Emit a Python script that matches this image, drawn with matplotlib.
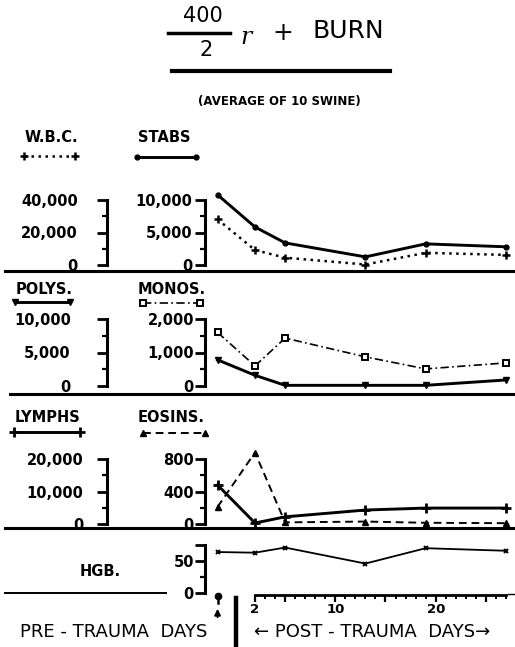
"""Blood counts of swine after 400/2 r + burn, redrawn from the hand-lettered chart."""
import matplotlib
matplotlib.use("Agg")
import matplotlib.pyplot as plt
from matplotlib import transforms
from matplotlib.lines import Line2D
from matplotlib.ticker import FixedLocator, FixedFormatter, FuncFormatter

# ---- data (first value is the pre-trauma average) ----
days = [2, 5, 13, 19, 27]
pre_day = -1.73          # where the pre-trauma values sit on the day scale

wbc = [28100, 9200, 4500, 300, 7500, 6200]
stabs = [10800, 5850, 3400, 1250, 3250, 2800]
polys = [3900, 1600, 100, 100, 100, 900]
monos = [1600, 600, 1430, 870, 510, 690]
lymphs = [12000, 300, 2200, 4300, 4900, 4900]
eosins = [210, 880, 20, 30, 15, 10]
hgb = [64, 63, 71, 46, 70, 66]

day_ticks = [2, 5, 10, 15, 20, 25]
day_labels = ["2", "", "10", "", "20", ""]

plt.rcParams["font.family"] = "DejaVu Sans"
plt.rcParams["font.weight"] = "bold"

W, H = 515, 647
fig = plt.figure(figsize=(W / 100, H / 100), dpi=100)
xs = [pre_day] + days


def fx(px):
    return px / W


def fy(py):
    return 1 - py / H


X_LEFT, X_RIGHT = 205, 515
XLIM = (-2.98, 27.9)
TWIN_POS = (107 - X_LEFT) / (X_RIGHT - X_LEFT)


def scale(ax, ymax, pad, major=None, labels=None):
    """Bracket-like y scale: thick spine, ticks pointing out at ends."""
    ax.set_ylim(0, ymax)
    ax.spines["left"].set_bounds(0, ymax)
    ax.spines["left"].set_linewidth(2.2)
    for s in ["top", "right", "bottom"]:
        ax.spines[s].set_visible(False)
    if major is None:
        major = [0, ymax / 2, ymax]
    ax.yaxis.set_major_locator(FixedLocator(major))
    if labels is None:
        ax.yaxis.set_major_formatter(FuncFormatter(lambda v, p: f"{int(v):,}"))
    else:
        ax.yaxis.set_major_formatter(FixedFormatter(labels))
    ax.yaxis.set_minor_locator(FixedLocator([ymax / 4, 3 * ymax / 4]))
    ax.tick_params(axis="y", which="major", direction="out", length=7,
                   width=2, labelsize=10.5, pad=pad)
    ax.tick_params(axis="y", which="minor", direction="out", length=3.5,
                   width=1.6)
    ax.set_xticks([])


def panel(top, bottom, ymax, pad, **kw):
    ax = fig.add_axes([fx(X_LEFT), fy(bottom), fx(X_RIGHT - X_LEFT),
                       (bottom - top) / H])
    ax.set_xlim(*XLIM)
    ax.patch.set_visible(False)
    scale(ax, ymax, pad, **kw)
    return ax


def twin(ax, ymax, pad):
    tw = ax.twinx()
    tw.patch.set_visible(False)
    tw.spines["left"].set_position(("axes", TWIN_POS))
    tw.spines["left"].set_visible(True)
    tw.yaxis.set_ticks_position("left")
    scale(tw, ymax, pad)
    return tw


def rule(x0, x1, y, lw=2.2):
    fig.add_artist(Line2D([fx(x0), fx(x1)], [fy(y), fy(y)], color="k",
                          lw=lw, transform=fig.transFigure))


def key(x0, x1, y, **kw):
    fig.add_artist(Line2D([fx(x0), fx(x1)], [fy(y), fy(y)], color="k",
                          transform=fig.transFigure, clip_on=False, **kw))


def label(x, y, s, size=10.5, **kw):
    fig.text(fx(x), fy(y), s, ha="center", va="center", fontsize=size, **kw)


wbc_style = dict(ls=(0, (1, 1.8)), lw=1.8, marker="+", ms=6, mew=1.8)
stabs_style = dict(ls="-", lw=2.1, marker="o", ms=3.5)
polys_style = dict(ls="-", lw=2.1, marker="v", ms=5)
monos_style = dict(ls=(0, (5, 2, 1, 2)), lw=1.2, marker="s", ms=4,
                   mfc="white", mew=1.4)
lymphs_style = dict(ls="-", lw=2.1, marker="+", ms=6.5, mew=2)
eosins_style = dict(ls=(0, (4, 2.5)), lw=1.4, marker="^", ms=4.5)
hgb_style = dict(ls="-", lw=1.3, marker="x", ms=3.5, mew=1.4)

# ---- panel 1: W.B.C. / STABS ----
ax1 = panel(200, 265, 10000, pad=2)
tw1 = twin(ax1, 40000, pad=14)
tw1.plot(xs, wbc, color="k", clip_on=False, **wbc_style)
ax1.plot(xs, stabs, color="k", clip_on=False, **stabs_style)
label(51, 137, "W.B.C.")
label(164, 137, "STABS")
key(24, 75, 156, **wbc_style)
key(137, 196, 157, **stabs_style)

# ---- panel 2: POLYS. / MONOS. ----
ax2 = panel(319, 386, 2000, pad=1)
tw2 = twin(ax2, 10000, pad=19)
tw2.plot(xs, polys, color="k", clip_on=False, **polys_style)
ax2.plot(xs, monos, color="k", clip_on=False, **monos_style)
label(44, 290, "POLYS.")
label(172, 290, "MONOS.")
key(15, 70, 302, **polys_style)
key(143, 200, 303, **monos_style)

# ---- panel 3: LYMPHS / EOSINS. ----
ax3 = panel(459, 524, 800, pad=1)
tw3 = twin(ax3, 20000, pad=10)
tw3.plot(xs, lymphs, color="k", clip_on=False, **lymphs_style)
ax3.plot(xs, eosins, color="k", clip_on=False, **eosins_style)
label(47, 417, "LYMPHS")
label(171, 418, "EOSINS.")
key(14, 80, 432, **lymphs_style)
key(143, 205, 433, **eosins_style)

# ---- panel 4: HGB. ----
ax4 = panel(545, 593, 75, pad=1, major=[0, 50, 75], labels=["0", "50", ""])
ax4.yaxis.set_minor_locator(FixedLocator([25]))
ax4.plot(xs, hgb, color="k", clip_on=False, **hgb_style)
label(100, 572, "HGB.")
rule(5, 166, 593, lw=1.4)

# ---- separators between panels ----
rule(5, 515, 271)
rule(10, 515, 393.5)
rule(5, 515, 527.5)

# ---- day axis ----
axd = fig.add_axes([fx(X_LEFT), fy(595), fx(X_RIGHT - X_LEFT), 4 / H])
axd.set_xlim(*XLIM)
axd.patch.set_visible(False)
for s in ["top", "right", "left"]:
    axd.spines[s].set_visible(False)
axd.spines["bottom"].set_linewidth(2)
axd.spines["bottom"].set_bounds(days[0], days[-1])
axd.set_yticks([])
axd.xaxis.set_major_locator(FixedLocator(day_ticks))
axd.xaxis.set_major_formatter(FixedFormatter(day_labels))
axd.xaxis.set_minor_locator(FixedLocator(range(days[0] + 1, days[-1] + 1)))
axd.tick_params(axis="x", which="major", direction="out", length=5,
                width=1.6, labelsize=9.5, pad=1)
axd.tick_params(axis="x", which="minor", direction="out", length=3,
                width=1.4)
rule(508, 514, 594, lw=1)

# pre-trauma pointer and the break bar between pre and post trauma
blend = transforms.blended_transform_factory(axd.transData, fig.transFigure)
fig.add_artist(Line2D([pre_day, pre_day], [fy(596), fy(603)], color="k",
                      lw=1.8, transform=blend))
fig.add_artist(Line2D([pre_day], [fy(596)], color="k", marker="o", ms=4.5,
                      transform=blend))
axd.annotate("", xy=(pre_day, fy(606)), xytext=(pre_day, fy(620)),
             xycoords=blend, textcoords=blend,
             arrowprops=dict(arrowstyle="-|>", lw=1.3, color="k",
                             mutation_scale=9))
fig.add_artist(Line2D([0.1, 0.1], [fy(598), 0], color="k", lw=3.2,
                      transform=blend))

label(114, 632, "PRE - TRAUMA  DAYS", size=13, fontweight="normal")
label(372, 632, "\u2190 POST - TRAUMA  DAYS\u2192", size=13,
      fontweight="normal")

# ---- title block ----
label(203, 16, "400", size=15, fontweight="normal")
rule(168, 230, 33, lw=2.5)
label(206, 50, "2", size=15, fontweight="normal")
label(246, 38, "r", size=17, fontweight="normal", family="DejaVu Serif",
      style="italic")
label(283, 33, "+", size=18, fontweight="normal")
label(348, 31, "BURN", size=18, fontweight="normal")
rule(172, 390, 70.5, lw=3)
label(279, 102, "(AVERAGE OF 10 SWINE)", size=8.5)

fig.savefig("out.png", dpi=100, facecolor="white")
